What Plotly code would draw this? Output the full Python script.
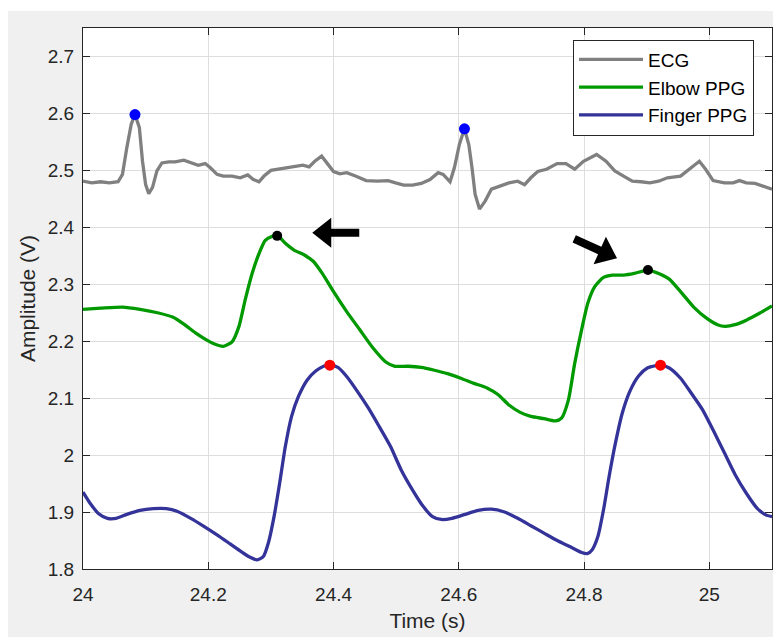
import numpy as np
import plotly.graph_objects as go

# ---------------- data ----------------
ecg_t = [24.000, 24.014, 24.028, 24.042, 24.056, 24.063, 24.070, 24.077, 24.083, 24.090,
         24.095, 24.100, 24.105, 24.111, 24.118, 24.126, 24.137, 24.147, 24.161, 24.172,
         24.184, 24.195, 24.203, 24.214, 24.224, 24.238, 24.251, 24.263, 24.272, 24.281,
         24.289, 24.300, 24.316, 24.333, 24.351, 24.361, 24.370, 24.381, 24.389, 24.400,
         24.410, 24.421, 24.435, 24.452, 24.470, 24.487, 24.499, 24.512, 24.526, 24.540,
         24.554, 24.567, 24.575, 24.586, 24.593, 24.601, 24.609, 24.616, 24.621, 24.626,
         24.633, 24.642, 24.652, 24.666, 24.680, 24.694, 24.705, 24.715, 24.726, 24.740,
         24.757, 24.771, 24.785, 24.799, 24.820, 24.835, 24.849, 24.863, 24.877, 24.891,
         24.905, 24.919, 24.933, 24.954, 24.968, 24.984, 24.994, 25.006, 25.024, 25.038,
         25.048, 25.059, 25.073, 25.100]
ecg_v = [2.481, 2.478, 2.480, 2.478, 2.480, 2.493, 2.540, 2.581, 2.598, 2.575,
         2.516, 2.475, 2.459, 2.470, 2.499, 2.513, 2.515, 2.515, 2.518, 2.513,
         2.509, 2.512, 2.505, 2.493, 2.490, 2.490, 2.487, 2.492, 2.484, 2.480,
         2.490, 2.500, 2.503, 2.506, 2.509, 2.506, 2.516, 2.525, 2.513, 2.498,
         2.494, 2.496, 2.490, 2.482, 2.481, 2.482, 2.478, 2.474, 2.474, 2.477,
         2.484, 2.496, 2.493, 2.480, 2.505, 2.546, 2.573, 2.545, 2.505, 2.458,
         2.432, 2.446, 2.467, 2.473, 2.478, 2.481, 2.475, 2.487, 2.498, 2.502,
         2.512, 2.512, 2.502, 2.516, 2.528, 2.516, 2.499, 2.490, 2.481, 2.480,
         2.478, 2.481, 2.487, 2.490, 2.502, 2.516, 2.502, 2.482, 2.478, 2.478,
         2.482, 2.478, 2.477, 2.467]

elbow_t = [24.000, 24.028, 24.063, 24.091, 24.119, 24.144, 24.161, 24.179, 24.193, 24.210,
           24.224, 24.238, 24.249, 24.259, 24.270, 24.281, 24.291, 24.302, 24.311, 24.323,
           24.337, 24.354, 24.368, 24.382, 24.400, 24.421, 24.442, 24.463, 24.484, 24.498,
           24.519, 24.540, 24.561, 24.582, 24.603, 24.624, 24.645, 24.663, 24.680, 24.698,
           24.715, 24.736, 24.754, 24.764, 24.775, 24.785, 24.796, 24.806, 24.817, 24.831,
           24.845, 24.863, 24.880, 24.902, 24.919, 24.936, 24.954, 24.975, 24.996, 25.013,
           25.025, 25.041, 25.059, 25.080, 25.100]
elbow_v = [2.256, 2.258, 2.260, 2.256, 2.250, 2.242, 2.230, 2.215, 2.205, 2.195,
           2.191, 2.199, 2.226, 2.273, 2.319, 2.354, 2.377, 2.384, 2.385, 2.372,
           2.360, 2.351, 2.340, 2.319, 2.287, 2.252, 2.220, 2.188, 2.163, 2.156,
           2.156, 2.154, 2.149, 2.143, 2.135, 2.126, 2.118, 2.106, 2.088, 2.075,
           2.068, 2.064, 2.060, 2.065, 2.097, 2.161, 2.220, 2.267, 2.296, 2.312,
           2.316, 2.316, 2.319, 2.325, 2.319, 2.309, 2.287, 2.260, 2.240, 2.229,
           2.226, 2.229, 2.237, 2.249, 2.262]

finger_t = [24.000, 24.011, 24.025, 24.039, 24.053, 24.070, 24.091, 24.112, 24.133, 24.151,
            24.172, 24.193, 24.214, 24.235, 24.252, 24.266, 24.278, 24.288, 24.296, 24.305,
            24.314, 24.323, 24.333, 24.344, 24.358, 24.372, 24.384, 24.395, 24.407, 24.421,
            24.438, 24.456, 24.473, 24.491, 24.508, 24.526, 24.543, 24.558, 24.572, 24.589,
            24.610, 24.631, 24.652, 24.673, 24.694, 24.715, 24.736, 24.757, 24.778, 24.796,
            24.805, 24.813, 24.822, 24.831, 24.840, 24.850, 24.861, 24.873, 24.887, 24.901,
            24.915, 24.922, 24.936, 24.954, 24.971, 24.989, 25.006, 25.024, 25.041, 25.059,
            25.076, 25.090, 25.100]
finger_v = [1.935, 1.916, 1.897, 1.889, 1.889, 1.896, 1.903, 1.906, 1.906, 1.901,
            1.889, 1.875, 1.860, 1.844, 1.831, 1.821, 1.816, 1.822, 1.846, 1.892,
            1.951, 2.015, 2.068, 2.103, 2.132, 2.148, 2.156, 2.158, 2.154, 2.138,
            2.112, 2.082, 2.050, 2.015, 1.974, 1.939, 1.910, 1.892, 1.887, 1.889,
            1.896, 1.903, 1.905, 1.900, 1.889, 1.876, 1.863, 1.850, 1.839, 1.829,
            1.827, 1.834, 1.857, 1.904, 1.963, 2.021, 2.074, 2.112, 2.139, 2.153,
            2.157, 2.158, 2.153, 2.135, 2.109, 2.080, 2.044, 2.004, 1.966, 1.933,
            1.907, 1.895, 1.892]

r_peak_t = [24.083, 24.609]
r_peak_v = [2.598, 2.573]
elbow_peak_t = [24.310, 24.902]
elbow_peak_v = [2.385, 2.325]
finger_peak_t = [24.394, 24.922]
finger_peak_v = [2.158, 2.158]

x_ticks = [24, 24.2, 24.4, 24.6, 24.8, 25]
x_tick_text = ["24", "24.2", "24.4", "24.6", "24.8", "25"]
y_ticks = [1.8, 1.9, 2.0, 2.1, 2.2, 2.3, 2.4, 2.5, 2.6, 2.7]
y_tick_text = ["1.8", "1.9", "2", "2.1", "2.2", "2.3", "2.4", "2.5", "2.6", "2.7"]

series_names = ["ECG", "Elbow PPG", "Finger PPG"]

# ---------------- styles ----------------
C_ECG = "#808080"
C_ELB = "#009900"
C_FIN = "#333399"
TXT = "#262626"
FONT = "Liberation Sans, Arial, sans-serif"
LW = 3.3

fig = go.Figure()
fig.add_trace(go.Scatter(x=ecg_t, y=ecg_v, mode="lines", name=series_names[0],
                         line=dict(color=C_ECG, width=LW)))
fig.add_trace(go.Scatter(x=elbow_t, y=elbow_v, mode="lines", name=series_names[1],
                         line=dict(color=C_ELB, width=LW, shape="spline", smoothing=0.6)))
fig.add_trace(go.Scatter(x=finger_t, y=finger_v, mode="lines", name=series_names[2],
                         line=dict(color=C_FIN, width=LW, shape="spline", smoothing=0.6)))
fig.add_trace(go.Scatter(x=r_peak_t, y=r_peak_v, mode="markers", showlegend=False,
                         marker=dict(color="#0000ff", size=11)))
fig.add_trace(go.Scatter(x=elbow_peak_t, y=elbow_peak_v, mode="markers", showlegend=False,
                         marker=dict(color="#000000", size=10)))
fig.add_trace(go.Scatter(x=finger_peak_t, y=finger_peak_v, mode="markers", showlegend=False,
                         marker=dict(color="#ff0000", size=11)))

# arrow shapes (pixel-sized, anchored at tip)
arrow_poly = np.array([[0, 0], [19, 15], [19, 4], [47, 4], [47, -4], [19, -4], [19, -15]], float)


def arrow_path(angle_deg):
    a = np.deg2rad(angle_deg)
    R = np.array([[np.cos(a), -np.sin(a)], [np.sin(a), np.cos(a)]])
    pts = arrow_poly @ R.T
    return "M" + " L".join(f"{p[0]:.2f},{p[1]:.2f}" for p in pts) + " Z"


shapes = [
    dict(type="path", xref="x", yref="y", xsizemode="pixel", ysizemode="pixel",
         xanchor=24.366, yanchor=2.3905, path=arrow_path(0),
         fillcolor="black", line=dict(width=0)),
    dict(type="path", xref="x", yref="y", xsizemode="pixel", ysizemode="pixel",
         xanchor=24.8526, yanchor=2.3456, path=arrow_path(155.7),
         fillcolor="black", line=dict(width=0)),
    # white outer border strips (figure framing)
    dict(type="rect", xref="paper", yref="paper", x0=-0.2, x1=-0.1089, y0=-0.3, y1=1.2,
         fillcolor="white", line=dict(width=0), layer="below"),
    dict(type="rect", xref="paper", yref="paper", x0=-0.2, x1=1.1, y0=1.0314, y1=1.2,
         fillcolor="white", line=dict(width=0), layer="below"),
]

axis_common = dict(
    showline=True, linecolor=TXT, linewidth=1, mirror="ticks",
    ticks="inside", ticklen=7, tickcolor=TXT, tickwidth=1,
    showgrid=True, gridcolor="#dedede", gridwidth=1, zeroline=False,
    tickfont=dict(family=FONT, size=19, color=TXT),
)

fig.update_layout(
    width=773, height=637,
    margin=dict(l=83, r=1, t=28, b=68),
    paper_bgcolor="#f0f0f0", plot_bgcolor="white",
    font=dict(family=FONT, color=TXT),
    xaxis=dict(range=[24, 25.1], tickvals=x_ticks, ticktext=x_tick_text,
               ticklabelstandoff=8,
               title=dict(text="Time (s)", font=dict(family=FONT, size=21, color=TXT), standoff=9),
               **axis_common),
    yaxis=dict(range=[1.8, 2.75], tickvals=y_ticks, ticktext=y_tick_text,
               ticklabelstandoff=4,
               title=dict(text="Amplitude (V)", font=dict(family=FONT, size=21, color=TXT), standoff=6),
               **axis_common),
    legend=dict(x=0.9739, y=0.9786, xanchor="right", yanchor="top",
                bgcolor="white", bordercolor=TXT, borderwidth=1,
                font=dict(family=FONT, size=19, color="black"),
                itemwidth=64, tracegroupgap=0),
    shapes=shapes,
    showlegend=True,
)

fig.write_html("out.html")
